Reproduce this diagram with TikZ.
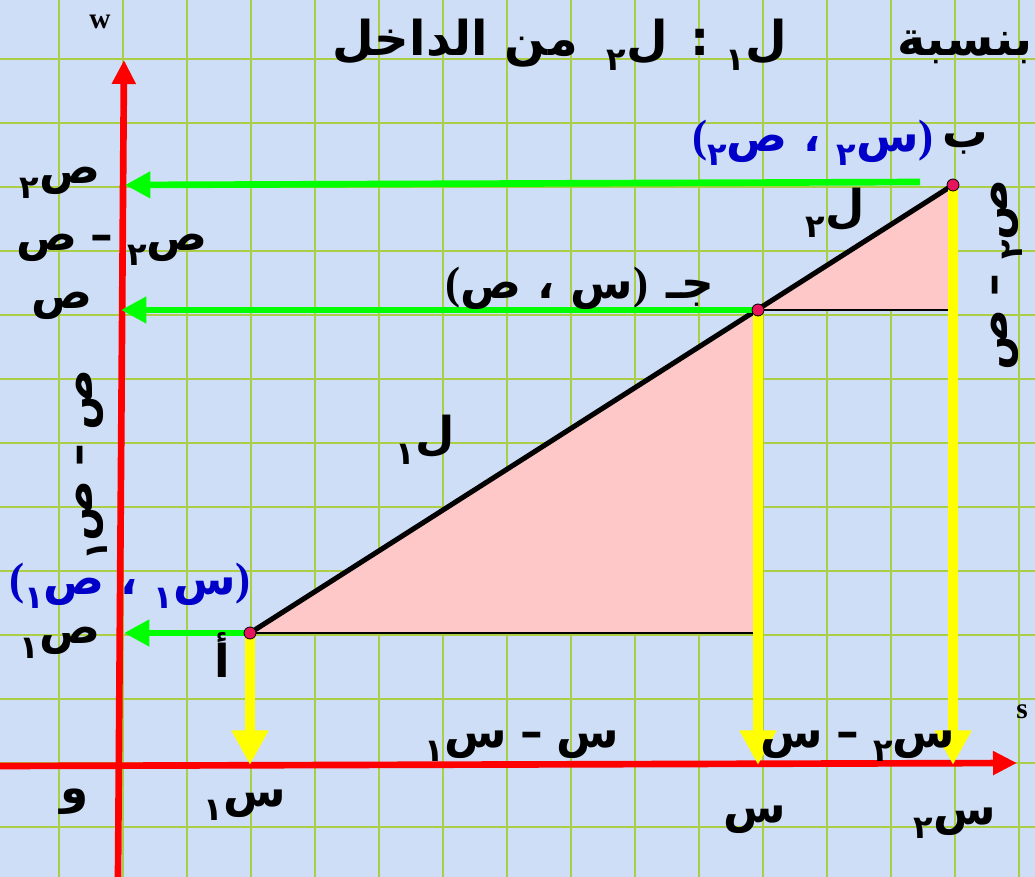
\documentclass[tikz,border=0pt]{standalone}
\usepackage{fontspec}
\usetikzlibrary{arrows.meta}
\TeXXeTstate=1
\newfontfamily\arabicfont[Script=Arabic]{DejaVu Sans}
\newfontfamily\latinfont{Liberation Serif}
\newcommand\ar[1]{\beginR #1\endR}
\newcommand\sbd[1]{\raisebox{-0.32em}{\fontsize{24}{26}\selectfont #1}}
\newcommand\lp{{\latinfont\bfseries (}}
\newcommand\rp{{\latinfont\bfseries )}}
\definecolor{bgc}{RGB}{206,222,246}
\definecolor{gridc}{RGB}{172,206,70}
\definecolor{pinkc}{RGB}{255,200,200}
\definecolor{redc}{RGB}{255,0,0}
\definecolor{greenc}{RGB}{0,255,0}
\definecolor{yellowc}{RGB}{255,255,0}
\definecolor{bluec}{RGB}{0,0,200}
\definecolor{dotc}{RGB}{230,20,90}
\tikzset{
  lbl/.style={font=\arabicfont\bfseries\fontsize{34}{38}\selectfont, inner sep=0pt},
  blbl/.style={lbl, text=bluec},
  ttl/.style={font=\arabicfont\bfseries\fontsize{36}{40}\selectfont, inner sep=0pt},
  axisline/.style={redc, line width=5pt, -{Triangle[length=18pt,width=17pt]}},
  garrow/.style={greenc, line width=5pt, -{Triangle[length=19pt,width=19pt]}},
  yarrow/.style={yellowc, line width=8pt, -{Triangle[length=26pt,width=26pt]}},
  gridline/.style={gridc, line width=1pt},
  thinl/.style={black, line width=0.8pt},
  dotn/.style={circle, fill=dotc, draw=black, line width=0.6pt, minimum size=9pt, inner sep=0pt},
  latin/.style={font=\latinfont\bfseries\fontsize{22}{24}\selectfont, inner sep=0pt}
}
\begin{document}
\begin{tikzpicture}[x=0.75pt,y=-0.75pt]
\fill[bgc] (0,0) rectangle (1035,877);
\useasboundingbox (0,0) rectangle (1035,877);
\foreach \k in {0,...,15} \draw[gridline] (59+64*\k,0) -- (59+64*\k,877);
\foreach \k in {0,...,12} \draw[gridline] (0,59+64*\k) -- (1035,59+64*\k);

% key points
\coordinate (A) at (250,633);
\coordinate (C) at (758,310);
\coordinate (B) at (953,185);
\coordinate (Ac) at (758,633);
\coordinate (Cc) at (953,310);
\coordinate (xA) at (250,765);
\coordinate (xC) at (758,765);
\coordinate (xB) at (953,765);
\coordinate (yA) at (124,633);
\coordinate (yC) at (121,310);
\coordinate (yB) at (125,185);
\coordinate (gB) at (920,182);
\coordinate (xs) at (0,766);
\coordinate (xe) at (1017,763);
\coordinate (ys) at (118,877);
\coordinate (ye) at (124,60);

% pink triangles
\fill[pinkc] (A) -- (Ac) -- (C) -- cycle;
\fill[pinkc] (C) -- (Cc) -- (B) -- cycle;
\draw[thinl] (A) -- (Ac);
\draw[thinl] (C) -- (Cc);

% axes
\draw[axisline] (xs) -- (xe);
\draw[axisline] (ys) -- (ye);

% line AB
\draw[black, line width=3.8pt] (A) -- (B);

% yellow arrows
\draw[yarrow] (A) -- (xA);
\draw[yarrow] (C) -- (xC);
\draw[yarrow] (B) -- (xB);

% green arrows
\draw[garrow] (gB) -- (yB);
\draw[garrow] (C) -- (yC);
\draw[garrow] (A) -- (yA);

% dots
\node[dotn] (dA) at (A) {};
\node[dotn] (dC) at (C) {};
\node[dotn] (dB) at (B) {};

% title
\node[ttl, anchor=east] (title) at (1033,45) {\ar{بنسبة\hspace{2.3em}ل\sbd{١} : ل\sbd{٢}\hspace{0.6em}من الداخل}};

% axis letters
\node[latin] (w) at (100,22) {w};
\node[latin] (s) at (1022,712) {s};

% y labels
\node[lbl] (ly2) at (60,183) {\ar{ص\sbd{٢}}};
\node[lbl] (ldy) at (112,250) {\ar{ص\sbd{٢}\hspace{0.3em}–\hspace{0.3em}ص}};
\node[lbl] (ly) at (62,306) {\ar{ص}};
\node[lbl, rotate=90] (lvl) at (92,465) {\ar{ص\hspace{0.3em}–\hspace{0.3em}ص\sbd{١}}};
\node[blbl] (pA) at (130,586) {\lp\ar{س\sbd{١} ، ص\sbd{١}}\rp};
\node[lbl] (ly1) at (60,643) {\ar{ص\sbd{١}}};
\node[lbl] (lA) at (222,655) {\ar{أ}};
\node[lbl] (lO) at (75,802) {\ar{و}};

% x labels
\node[lbl] (lx1) at (245,805) {\ar{س\sbd{١}}};
\node[lbl] (ldx1) at (522,746) {\ar{س\hspace{0.3em}–\hspace{0.3em}س\sbd{١}}};
\node[lbl] (lx) at (755,820) {\ar{س}};
\node[lbl] (ldx2) at (858,746) {\ar{س\sbd{٢}\hspace{0.3em}–\hspace{0.3em}س}};
\node[lbl] (lx2) at (955,823) {\ar{س\sbd{٢}}};

% line labels
\node[lbl] (L1) at (425,440) {\ar{ل\sbd{١}}};
\node[lbl] (L2) at (835,213) {\ar{ل\sbd{٢}}};

% point labels
\node[lbl] (lC) at (580,288) {\lp\ar{س ، ص}\rp\hspace{0.4em}\ar{جـ}};
\node[blbl] (pB) at (813,143) {\lp\ar{س\sbd{٢} ، ص\sbd{٢}}\rp};
\node[lbl] (lB) at (965,143) {\ar{ب}};
\node[lbl, rotate=90] (lvr) at (1007,275) {\ar{ص\sbd{٢}\hspace{0.3em}–\hspace{0.3em}ص}};
\end{tikzpicture}
\end{document}
